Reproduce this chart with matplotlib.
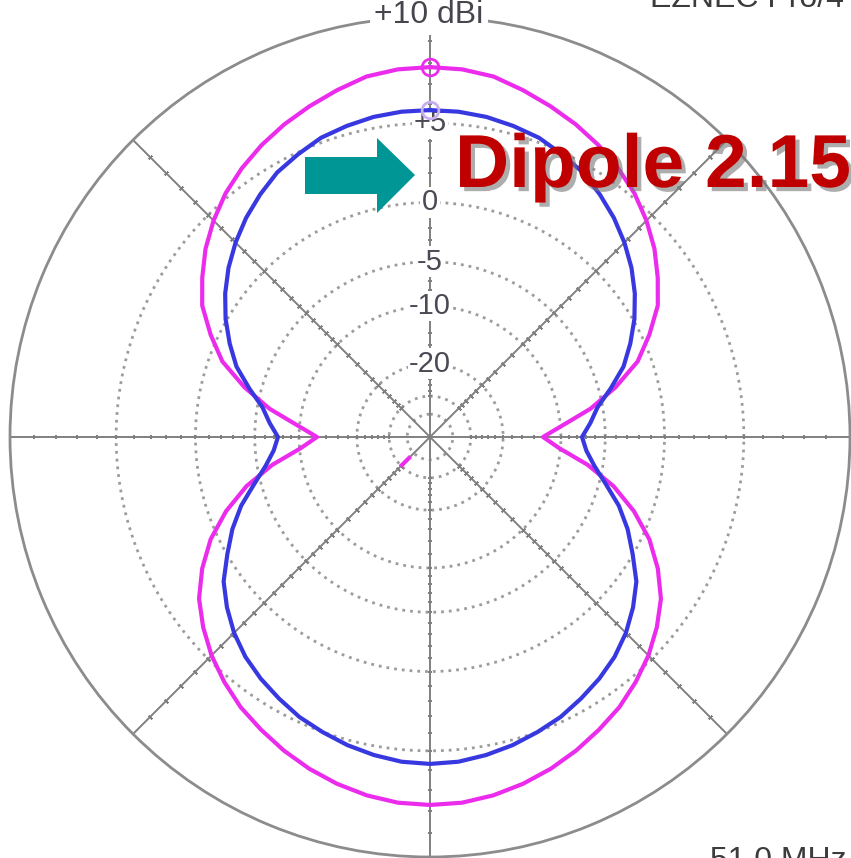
import numpy as np
import matplotlib
matplotlib.use("Agg")
import matplotlib.pyplot as plt
from matplotlib.patches import Polygon
import matplotlib.patheffects as pe

W, H = 851, 858
plt.rcParams['font.family'] = ['Liberation Sans', 'DejaVu Sans']

# pattern data, dBi every 5 degrees (bearing clockwise from top)
angles_deg = np.arange(0, 360, 5)
blue_dbi = [5.70, 5.68, 5.60, 5.44, 5.25, 4.90, 4.54, 4.00, 3.41, 2.73,
            1.97, 1.10, 0.11, -1.02, -2.23, -3.89, -5.52, -6.46, -7.44,
            -6.89, -5.83, -4.35, -2.65, -1.25, -0.04, 1.23, 2.10, 2.86,
            3.47, 3.94, 4.34, 4.73, 5.01, 5.28, 5.49, 5.65, 5.70,
            5.65, 5.49, 5.28, 5.01, 4.73, 4.34, 3.94, 3.47, 2.86, 2.10,
            1.23, -0.04, -1.25, -2.65, -4.35, -5.83, -6.89, -7.44,
            -6.46, -5.52, -3.89, -2.23, -1.02, 0.11, 1.10, 1.97, 2.73,
            3.41, 4.00, 4.54, 4.90, 5.25, 5.44, 5.60, 5.68]
magenta_dbi = [7.82, 7.78, 7.64, 7.31, 6.97, 6.62, 6.22, 5.76, 5.23, 4.57,
               3.82, 2.92, 1.97, 0.54, -1.02, -3.43, -6.24, -9.73, -12.53,
               -10.13, -6.56, -3.61, -1.33, 0.54, 1.97, 3.16, 4.00, 4.73,
               5.33, 5.86, 6.27, 6.67, 7.02, 7.31, 7.54, 7.69, 7.73,
               7.69, 7.54, 7.31, 7.02, 6.67, 6.27, 5.86, 5.33, 4.73, 4.00,
               3.16, 1.97, 0.54, -1.33, -3.61, -6.56, -10.13, -12.53,
               -9.73, -6.24, -3.43, -1.02, 0.54, 1.97, 2.92, 3.82, 4.57,
               5.23, 5.76, 6.22, 6.62, 6.97, 7.31, 7.64, 7.78]

max_dbi = 10
ring_dbi = [5, 0, -5, -10, -20, -30, -40]
ring_labels = ["+5", "0", "-5", "-10", "-20"]
cursor_angle = 225
cursor_dbi = [-30.5, -35.5]


def arrl(db):
    # ARRL log scale, 0.89 per 2 dB
    return 0.89 ** ((max_dbi - np.asarray(db, dtype=float)) / 2)


def close(a):
    return np.append(a, a[0])


fig = plt.figure(figsize=(W / 100, H / 100), dpi=100)
ax = fig.add_axes([10 / W, 1 / H, 840 / W, 840 / H], projection="polar")
ax.set_theta_zero_location("N")
ax.set_theta_direction(-1)
ax.set_ylim(0, 1)
ax.grid(False)
ax.set_yticks([])
ax.set_xticks(np.deg2rad(np.arange(0, 360, 5)))
ax.set_xticklabels([])
ax.tick_params(axis="x", direction="in", length=6, width=1.3, colors="#8c8c8c")
ax.spines["polar"].set_color("#8c8c8c")
ax.spines["polar"].set_linewidth(2)

full = np.linspace(0, 2 * np.pi, 721)
for lvl in ring_dbi:
    ax.plot(full, np.full_like(full, arrl(lvl)), color="#9c9c9c", lw=2,
            ls=(0, (1, 1.8)), zorder=2)

tick_db = list(range(9, -11, -1)) + list(range(-12, -32, -2))
for a in range(0, 360, 45):
    th = np.deg2rad(a)
    ax.plot([th, th], [0, 1], color="#808080", lw=1.4, zorder=2)
    ax.plot(np.full(len(tick_db), th), arrl(tick_db), ls="none",
            marker=(2, 2, 90 - a), ms=3.5, mew=1.2, color="#808080", zorder=2)

for lvl, lab in zip(ring_dbi, ring_labels):
    ax.text(0, arrl(lvl), lab, ha="center", va="center", fontsize=21,
            color="#4a4a55", zorder=3,
            bbox=dict(boxstyle="square,pad=0.05", fc="white", ec="none"))

th = np.deg2rad(close(angles_deg))
ax.plot(th, arrl(close(magenta_dbi)), color="#ec2cec", lw=3, zorder=5,
        solid_joinstyle="round")
ax.plot(th, arrl(close(blue_dbi)), color="#3838e0", lw=3, zorder=6,
        solid_joinstyle="round")
ax.plot(0, arrl(magenta_dbi[0]), "o", ms=12, mfc="none", mec="#ec2cec",
        mew=2, zorder=7)
ax.plot(0, arrl(blue_dbi[0]), "o", ms=12, mfc="none", mec="#c9aef0",
        mew=2, zorder=7)
ax.plot(np.deg2rad([cursor_angle] * 2), arrl(cursor_dbi), color="#ec2cec",
        lw=3, zorder=7)


def fx(x):
    return x / W


def fy(y):
    return 1 - y / H


fig.text(fx(429), fy(15), "+10 dBi", ha="center", va="center", fontsize=23,
         color="#45454e", zorder=10,
         bbox=dict(boxstyle="square,pad=0.15", fc="white", ec="none"))
fig.text(fx(650), fy(7), "EZNEC Pro/4", ha="left", va="baseline",
         fontsize=23, color="#3c3c3c")
fig.text(fx(710), fy(869), "51.0 MHz", ha="left", va="baseline",
         fontsize=23, color="#3c3c3c")

arrow_px = [(305, 157), (377, 157), (377, 138), (415, 175), (377, 213),
            (377, 194), (305, 194)]
fig.patches.append(Polygon([(fx(x), fy(y)) for x, y in arrow_px],
                           closed=True, fc="#009696", ec="none",
                           transform=fig.transFigure, zorder=10))

fig.text(fx(455), fy(187), "Dipole 2.15 dBi", ha="left", va="baseline",
         fontsize=54, fontweight="bold", color="#c00000", zorder=11,
         path_effects=[pe.withSimplePatchShadow(offset=(3, -3),
                                                shadow_rgbFace="#777777",
                                                alpha=0.6)])

fig.savefig("out.png", dpi=100)
